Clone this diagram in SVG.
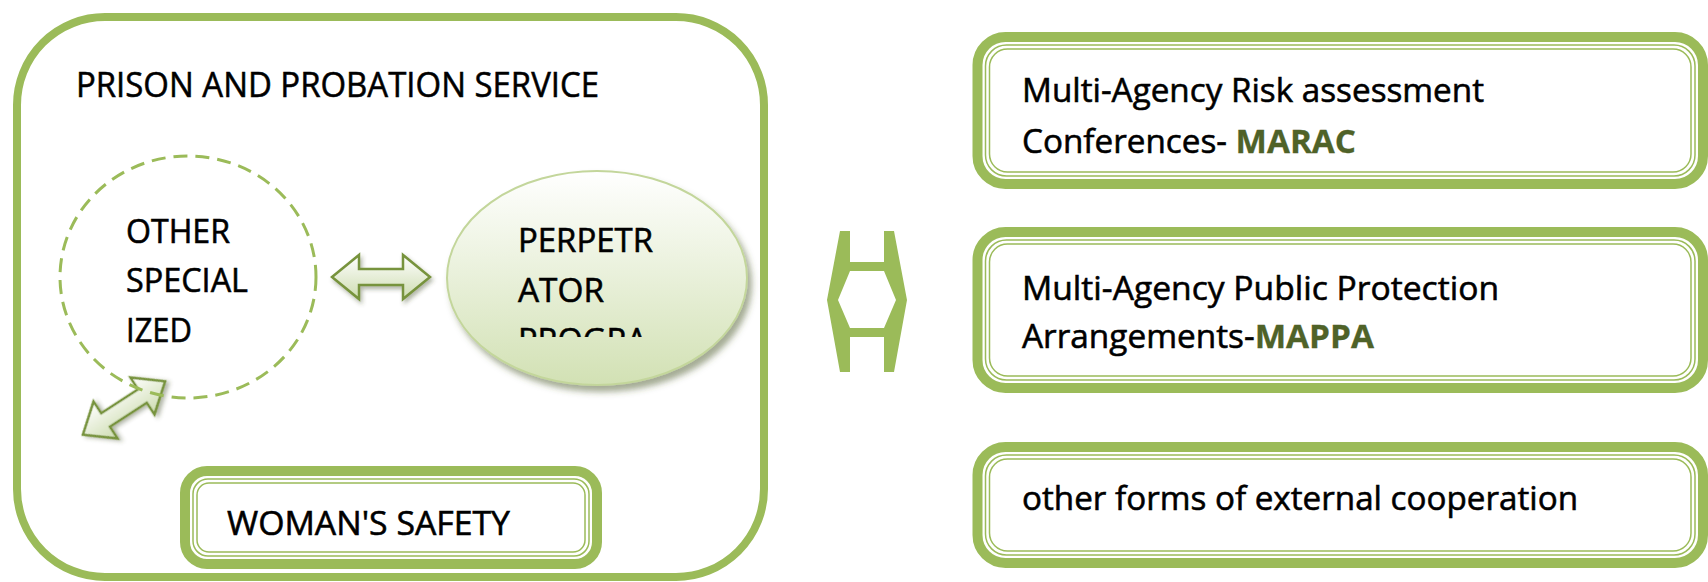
<svg xmlns="http://www.w3.org/2000/svg" width="1708" height="582" viewBox="0 0 1708 582">
<style>
.t{font-family:"Open Sans","Liberation Sans",sans-serif;font-size:32px;fill:#000;stroke:#000;stroke-width:0.55}
.big{font-size:35.5px}
.hl{fill:#4f6228;stroke:#4f6228;stroke-width:0.3;font-weight:bold}
.thick{fill:none;stroke:#9bbb59;stroke-width:10}
.thin{fill:none;stroke:#9bbb59;stroke-width:1.5}
.arrow{fill:url(#agrad);stroke:#77933c;stroke-width:2.5;stroke-linejoin:miter;filter:url(#ash)}
</style>
<defs>
<linearGradient id="egrad" x1="0" y1="0" x2="0" y2="1">
<stop offset="0" stop-color="#ffffff"/>
<stop offset="1" stop-color="#d2e1b4"/>
</linearGradient>
<linearGradient id="agrad" x1="0" y1="0" x2="0" y2="1">
<stop offset="0" stop-color="#ffffff"/>
<stop offset="1" stop-color="#cddcb0"/>
</linearGradient>
<filter id="esh" x="-20%" y="-20%" width="150%" height="150%">
<feDropShadow dx="4" dy="6" stdDeviation="3" flood-color="#4a5a2a" flood-opacity="0.5"/>
</filter>
<filter id="ash" x="-30%" y="-50%" width="160%" height="200%">
<feDropShadow dx="2" dy="3" stdDeviation="2" flood-color="#3c4a20" flood-opacity="0.4"/>
</filter>
<clipPath id="eclip"><rect x="440" y="160" width="320" height="177"/></clipPath>
<path id="dbl" d="M-49,0 L-22,-22 L-22,-8 L22,-8 L22,-22 L49,0 L22,22 L22,8 L-22,8 L-22,22 Z"/>
</defs>

<g id="prison-service">
<rect x="17" y="17" width="747" height="560" rx="88" ry="88" fill="none" stroke="#9bbb59" stroke-width="8"/>
<text class="t big" x="76" y="97" textLength="523" lengthAdjust="spacingAndGlyphs">PRISON AND PROBATION SERVICE</text>
</g>

<g id="connectors">
<use href="#dbl" class="arrow" transform="translate(124,408) rotate(-33)"/>
<use href="#dbl" class="arrow" transform="translate(381,277)"/>
<path d="M840,231 L850,231 L850,262 L884,262 L884,231 L894,231 L907,300 L894,372 L884,372 L884,337 L850,337 L850,372 L840,372 L827,300 Z M850,271 L884,271 L896,300 L884,328 L850,328 L838,300 Z" fill="#9bbb59" fill-rule="evenodd"/>
</g>

<g id="other-specialized">
<ellipse cx="188" cy="277" rx="128" ry="121" fill="none" stroke="#9bbb59" stroke-width="3" stroke-dasharray="14 8"/>
<text class="t" x="126" y="243" textLength="104" lengthAdjust="spacingAndGlyphs">OTHER</text>
<text class="t" x="126" y="292" textLength="122" lengthAdjust="spacingAndGlyphs">SPECIAL</text>
<text class="t" x="126" y="342" textLength="66" lengthAdjust="spacingAndGlyphs">IZED</text>
</g>

<g id="perpetrator-program">
<ellipse cx="597" cy="278" rx="150" ry="107" fill="url(#egrad)" stroke="#c3d69b" stroke-width="2" filter="url(#esh)"/>
<g clip-path="url(#eclip)">
<text class="t" x="518" y="252" textLength="135" lengthAdjust="spacingAndGlyphs">PERPETR</text>
<text class="t" x="518" y="302" textLength="86" lengthAdjust="spacingAndGlyphs">ATOR</text>
<text class="t" x="518" y="352" textLength="129" lengthAdjust="spacingAndGlyphs">PROGRA</text>
</g>
</g>

<g id="womans-safety">
<rect class="thick" x="185" y="471" width="412" height="93" rx="22"/>
<rect class="thin" x="193" y="479" width="396" height="77" rx="15"/>
<rect class="thin" x="197" y="483" width="388" height="69" rx="12"/>
<text class="t" x="227" y="535" textLength="283" lengthAdjust="spacingAndGlyphs">WOMAN'S SAFETY</text>
</g>

<g id="marac">
<rect class="thick" x="977.5" y="37" width="725.5" height="147" rx="28"/>
<rect class="thin" x="985.5" y="45" width="709.5" height="131" rx="21"/>
<rect class="thin" x="989.5" y="49" width="701.5" height="123" rx="18"/>
<text class="t" x="1022" y="102" textLength="462" lengthAdjust="spacingAndGlyphs">Multi-Agency Risk assessment</text>
<text class="t" x="1022" y="153" textLength="334" lengthAdjust="spacingAndGlyphs">Conferences- <tspan class="hl">MARAC</tspan></text>
</g>

<g id="mappa">
<rect class="thick" x="977.5" y="232" width="725.5" height="156" rx="28"/>
<rect class="thin" x="985.5" y="240" width="709.5" height="140" rx="21"/>
<rect class="thin" x="989.5" y="244" width="701.5" height="132" rx="18"/>
<text class="t" x="1022" y="300" textLength="477" lengthAdjust="spacingAndGlyphs">Multi-Agency Public Protection</text>
<text class="t" x="1022" y="348" textLength="352" lengthAdjust="spacingAndGlyphs">Arrangements-<tspan class="hl">MAPPA</tspan></text>
</g>

<g id="external-cooperation">
<rect class="thick" x="977.5" y="447" width="725.5" height="116" rx="28"/>
<rect class="thin" x="985.5" y="455" width="709.5" height="100" rx="21"/>
<rect class="thin" x="989.5" y="459" width="701.5" height="92" rx="18"/>
<text class="t" x="1022" y="510" textLength="556" lengthAdjust="spacingAndGlyphs">other forms of external cooperation</text>
</g>
</svg>
